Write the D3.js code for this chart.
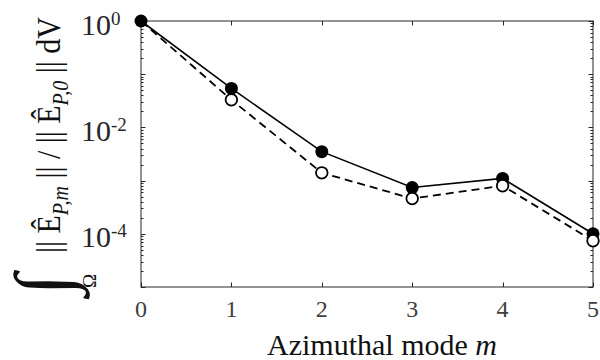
<!DOCTYPE html>
<html>
<head>
<meta charset="utf-8">
<script src="https://cdn.jsdelivr.net/npm/d3@7"></script>
<style>
  body { margin: 0; background: #fff; }
  svg { display: block; }
  text { font-family: "Liberation Serif", "Times New Roman", serif; }
</style>
</head>
<body>
<svg id="chart" width="600" height="360"></svg>
<script>
// ---- data ----
const modes = [0, 1, 2, 3, 4, 5];
const fullValues = [1, 0.054, 3.5e-3, 7.4e-4, 1.1e-3, 1.0e-4];     // solid, filled markers
const approxValues = [1, 0.033, 1.4e-3, 4.6e-4, 8.0e-4, 7.4e-5];   // dashed, open markers
const xTickLabels = ["0", "1", "2", "3", "4", "5"];
const yTickExponents = ["0", "-2", "-4"];
const yTickValues = [1, 1e-2, 1e-4];

// ---- layout ----
const svg = d3.select("#chart");
const pL = 141, pR = 593, pT = 21, pB = 287;
const axisColor = "#262626";

const x = d3.scaleLinear().domain([0, 5]).range([pL, pR]);
const y = d3.scaleLog().domain([1e-5, 1]).range([pB, pT]);

// frame
svg.append("rect")
  .attr("x", pL).attr("y", pT)
  .attr("width", pR - pL).attr("height", pB - pT)
  .attr("fill", "none").attr("stroke", axisColor).attr("stroke-width", 1);

// y ticks (major each decade, minor 2..9)
const yTicks = [];
for (let e = -5; e <= 0; e++) {
  yTicks.push({ v: Math.pow(10, e), major: true });
  if (e < 0) for (let k = 2; k <= 9; k++) yTicks.push({ v: k * Math.pow(10, e), major: false });
}
const gTicks = svg.append("g").attr("stroke", axisColor).attr("stroke-width", 1);
yTicks.forEach(t => {
  const yy = Math.round(y(t.v)) + 0.5;
  const len = t.major ? 4.5 : 2.5;
  gTicks.append("line").attr("x1", pL).attr("x2", pL + len).attr("y1", yy).attr("y2", yy);
  gTicks.append("line").attr("x1", pR).attr("x2", pR - len).attr("y1", yy).attr("y2", yy);
});
// x ticks
modes.forEach(m => {
  const xx = Math.round(x(m)) + 0.5;
  gTicks.append("line").attr("x1", xx).attr("x2", xx).attr("y1", pB).attr("y2", pB - 4.5);
  gTicks.append("line").attr("x1", xx).attr("x2", xx).attr("y1", pT).attr("y2", pT + 4.5);
});

// x tick labels
svg.append("g").selectAll("text").data(modes).join("text")
  .attr("x", d => x(d)).attr("y", 317)
  .attr("text-anchor", "middle")
  .attr("font-size", 24).attr("fill", "#404040")
  .text((d, i) => xTickLabels[i]);

// y tick labels
const yl = svg.append("g").selectAll("text").data(yTickValues).join("text")
  .attr("x", 81).attr("y", d => y(d) + 13.5)
  .attr("font-size", 30).attr("fill", "#262626");
yl.append("tspan").text("10");
yl.append("tspan").attr("font-size", 19).attr("dy", -10).text((d, i) => yTickExponents[i]);

// x axis label
const xl = svg.append("text").attr("x", 267).attr("y", 355)
  .attr("font-size", 30).attr("fill", "#111");
xl.append("tspan").text("Azimuthal mode ");
xl.append("tspan").attr("font-style", "italic").text("m");

// y axis label (rotated)
svg.append("text").attr("transform", "translate(69,295) rotate(-90)")
  .attr("font-size", 78).attr("fill", "#111").text("∫");
svg.append("text").attr("transform", "translate(96,288) rotate(-90)")
  .attr("font-size", 19).attr("fill", "#111").text("Ω");
const lab = svg.append("text").attr("transform", "translate(60,293) rotate(-90) scale(1,1.13)")
  .attr("x", 40).attr("y", 0).attr("font-size", 30).attr("fill", "#111");
lab.append("tspan").text("|| Ê");
lab.append("tspan").attr("font-style", "italic").attr("font-size", 20).attr("dy", 7).text("P,m");
lab.append("tspan").attr("dy", -7).text(" || / || Ê");
lab.append("tspan").attr("font-style", "italic").attr("font-size", 20).attr("dy", 7).text("P,0");
lab.append("tspan").attr("dy", -7).text(" || dV");

// lines
const line = d3.line().x((d, i) => x(modes[i])).y(d => y(d));
svg.append("path").datum(fullValues).attr("d", line)
  .attr("fill", "none").attr("stroke", "#000").attr("stroke-width", 1.6);
svg.append("path").datum(approxValues).attr("d", line)
  .attr("fill", "none").attr("stroke", "#000").attr("stroke-width", 1.8)
  .attr("stroke-dasharray", "8,5");

// markers
svg.append("g").selectAll("circle").data(fullValues).join("circle")
  .attr("cx", (d, i) => x(modes[i])).attr("cy", d => y(d)).attr("r", 6.5)
  .attr("fill", "#000");
svg.append("g").selectAll("circle")
  .data(approxValues.map((v, i) => ({ v, m: modes[i] })).filter(d => d.m > 0))
  .join("circle")
  .attr("cx", d => x(d.m)).attr("cy", d => y(d.v)).attr("r", 5.8)
  .attr("fill", "#fff").attr("stroke", "#000").attr("stroke-width", 1.8);
</script>
</body>
</html>
